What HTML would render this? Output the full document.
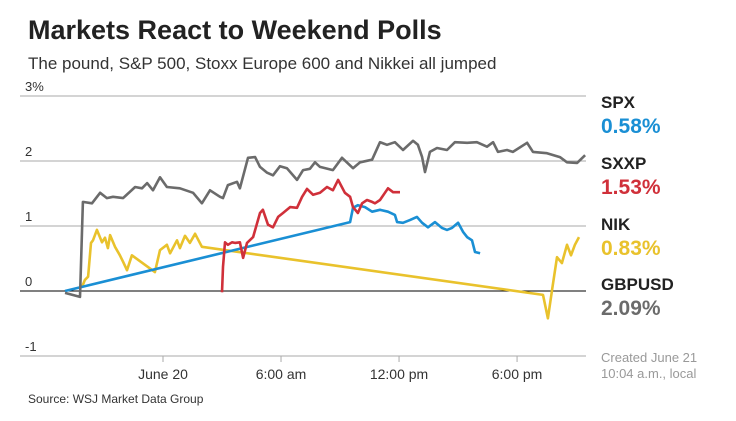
<!DOCTYPE html>
<html><head><meta charset="utf-8"><style>
body{margin:0;background:#fff;width:736px;height:421px;overflow:hidden;font-family:"Liberation Sans",sans-serif}
svg{position:absolute;left:0;top:0}
</style></head><body>
<svg width="736" height="421" id="c">
<text x="28" y="39" font-size="27" font-weight="bold" fill="#222">Markets React to Weekend Polls</text>
<text x="28" y="69" font-size="17" fill="#333">The pound, S&amp;P 500, Stoxx Europe 600 and Nikkei all jumped</text>
<text x="28" y="403" font-size="12" fill="#333">Source: WSJ Market Data Group</text>
<g id="grid"></g><g id="lines"></g>
<g font-weight="bold">
<text x="601" y="108" font-size="17" fill="#222">SPX</text>
<text x="601" y="133" font-size="21" fill="#1a8fd4">0.58%</text>
<text x="601" y="169" font-size="17" fill="#222">SXXP</text>
<text x="601" y="194" font-size="21" fill="#d0303a">1.53%</text>
<text x="601" y="230" font-size="17" fill="#222">NIK</text>
<text x="601" y="255" font-size="21" fill="#e9c22c">0.83%</text>
<text x="601" y="290" font-size="17" fill="#222">GBPUSD</text>
<text x="601" y="315" font-size="21" fill="#6b6b6b">2.09%</text>
</g>
<text x="601" y="362" font-size="13" fill="#999">Created June 21</text>
<text x="601" y="378" font-size="13" fill="#999">10:04 a.m., local</text>
</svg>
<script>
const yTicks=[3,2,1,0,-1];
const yTickLabels=["3%","2","1","0","-1"];
const xTicks=[0,6,12,18];
const xTickLabels=["June 20","6:00 am","12:00 pm","6:00 pm"];
const gbpT=[-4.98,-4.22,-4.07,-3.61,-3.2,-2.85,-2.54,-2.03,-1.42,-1.07,-0.81,-0.51,-0.15,0.2,0.86,1.53,1.98,2.39,2.9,3.05,3.3,3.76,3.91,4.32,4.68,4.93,5.29,5.59,5.95,6.3,6.81,7.12,7.47,7.73,7.98,8.64,9.1,9.66,10.02,10.63,11.03,11.39,11.79,12.2,12.71,12.96,13.17,13.32,13.57,13.93,14.44,14.84,15.46,15.96,16.47,16.78,17.03,17.49,17.79,18.51,18.81,19.52,20.18,20.54,21.05,21.46];
const gbpV=[-0.03,-0.09,1.37,1.35,1.51,1.43,1.45,1.43,1.6,1.58,1.66,1.55,1.75,1.6,1.58,1.51,1.35,1.55,1.45,1.43,1.63,1.68,1.58,2.05,2.06,1.91,1.82,1.78,1.92,1.89,1.71,1.86,1.88,1.98,1.91,1.86,2.05,1.89,1.98,2.02,2.29,2.25,2.29,2.17,2.31,2.25,2.06,1.83,2.14,2.2,2.17,2.29,2.28,2.29,2.22,2.29,2.14,2.17,2.14,2.28,2.14,2.12,2.06,1.98,1.97,2.09];
const nikT=[-4.12,-3.97,-3.81,-3.66,-3.56,-3.36,-3.1,-2.95,-2.8,-2.69,-2.44,-2.19,-2.03,-1.83,-1.58,-0.41,-0.15,0.2,0.36,0.71,0.86,1.12,1.37,1.63,1.98,19.32,19.57,19.78,20.03,20.28,20.54,20.74,20.94,21.15];
const nikV=[0.06,0.17,0.22,0.74,0.78,0.94,0.75,0.82,0.66,0.86,0.68,0.55,0.45,0.32,0.55,0.29,0.63,0.71,0.58,0.78,0.66,0.85,0.74,0.88,0.68,-0.06,-0.42,0.02,0.52,0.43,0.71,0.55,0.71,0.83];
const spxT=[-4.98,9.51,9.66,9.91,10.27,10.63,11.03,11.44,11.79,11.9,12.2,12.55,12.91,13.17,13.47,13.83,14.18,14.44,14.69,15.0,15.25,15.46,15.71,15.86,16.12];
const spxV=[0,1.06,1.28,1.32,1.29,1.22,1.25,1.22,1.17,1.06,1.05,1.09,1.14,1.05,0.98,1.06,0.97,0.94,0.97,1.05,0.91,0.83,0.78,0.6,0.58];
const sxxpT=[3.0,3.05,3.15,3.3,3.51,3.66,3.91,4.07,4.27,4.58,4.93,5.08,5.34,5.59,5.85,6.1,6.46,6.81,7.07,7.32,7.63,7.98,8.34,8.64,8.9,9.25,9.51,9.66,9.91,10.12,10.37,10.63,10.78,11.03,11.44,11.7,12.05];
const sxxpV=[-0.02,0.37,0.75,0.71,0.75,0.74,0.75,0.51,0.74,0.83,1.2,1.25,1.02,0.98,1.14,1.2,1.29,1.28,1.45,1.57,1.48,1.51,1.6,1.55,1.71,1.51,1.45,1.29,1.2,1.35,1.4,1.37,1.35,1.4,1.58,1.52,1.52];
const X=h=>163+h*19.67, Y=v=>291-v*65;
const NS="http://www.w3.org/2000/svg";
const grid=document.getElementById('grid'), lines=document.getElementById('lines');
function mk(tag,attrs,parent){const e=document.createElementNS(NS,tag);for(const k in attrs)e.setAttribute(k,attrs[k]);parent.appendChild(e);return e;}
yTicks.forEach((v,i)=>{
  const l=mk('line',{x1:20,x2:586,y1:Y(v),y2:Y(v),stroke:v===0?'#000':'#aaa','stroke-width':1},grid);
  
  
  const t=mk('text',{x:25,y:Y(v)-5,'font-size':13,fill:'#333'},grid);
  t.textContent=yTickLabels[i];
  
  
});
xTicks.forEach((h,i)=>{
  const l=mk('line',{x1:X(h),x2:X(h),y1:356,y2:362,stroke:'#aaa'},grid);
  
  
  const t=mk('text',{x:X(h),y:379,'font-size':14,fill:'#333','text-anchor':'middle'},grid);
  t.textContent=xTickLabels[i];
  
  
});
function series(T,V,color,name){
  const d=T.map((t,i)=>(i?'L':'M')+X(t).toFixed(1)+','+Y(V[i]).toFixed(1)).join('');
  const p=mk('path',{d:d,fill:'none',stroke:color,'stroke-width':2.6,'stroke-linejoin':'round'},lines);
  
  
}
series(nikT,nikV,'#e9c22c','nik-line');
series(spxT,spxV,'#1a8fd4','spx-line');
series(sxxpT,sxxpV,'#d0303a','sxxp-line');
series(gbpT,gbpV,'#6b6b6b','gbpusd-line');
</script>
</body></html>
